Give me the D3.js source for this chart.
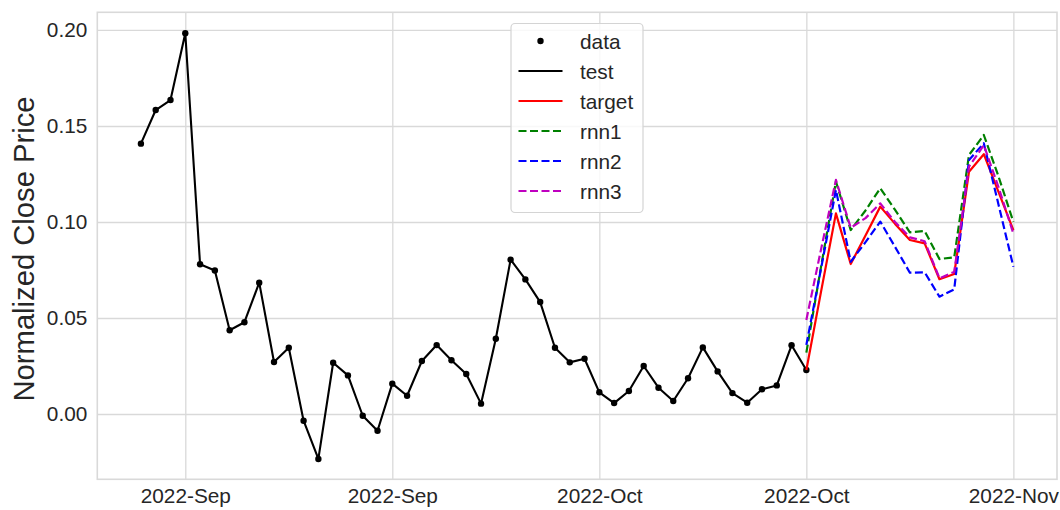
<!DOCTYPE html>
<html>
<head>
<meta charset="utf-8">
<script src="https://cdn.jsdelivr.net/npm/d3@7"></script>
<style>
  html, body { margin: 0; padding: 0; background: #fff; }
  svg { display: block; font-family: "Liberation Sans", Arial, sans-serif; }
</style>
</head>
<body>
<svg id="chart" width="1060" height="510"></svg>
<script>
// ---- data ----
const testValues = [
  0.1408, 0.1583, 0.1635, 0.1983, 0.0780, 0.0747, 0.0436, 0.0478, 0.0684, 0.0271,
  0.0345, -0.0035, -0.0234, 0.0267, 0.0201, -0.0009, -0.0087, 0.0158, 0.0095, 0.0276,
  0.0359, 0.0280, 0.0208, 0.0054, 0.0392, 0.0804, 0.0701, 0.0583, 0.0345, 0.0269,
  0.0288, 0.0113, 0.0057, 0.0120, 0.0250, 0.0137, 0.0068, 0.0186, 0.0347, 0.0222,
  0.0109, 0.0059, 0.0129, 0.0149, 0.0358, 0.0229
];
const predStart = 45;
const targetValues = [0.0229, 0.0640, 0.1045, 0.0781, 0.0930, 0.1080, 0.0990, 0.0906, 0.0889, 0.0702, 0.0729, 0.1262, 0.1353, 0.1155, 0.0958];
const rnn1Values   = [0.0320, 0.0770, 0.1210, 0.0958, 0.1060, 0.1176, 0.1063, 0.0946, 0.0953, 0.0807, 0.0816, 0.1349, 0.1453, 0.1236, 0.1000];
const rnn2Values   = [0.0360, 0.0760, 0.1167, 0.0793, 0.0895, 0.1002, 0.0870, 0.0736, 0.0738, 0.0611, 0.0649, 0.1323, 0.1410, 0.1089, 0.0767];
const rnn3Values   = [0.0490, 0.0860, 0.1219, 0.0970, 0.1020, 0.1097, 0.1000, 0.0920, 0.0900, 0.0707, 0.0740, 0.1288, 0.1400, 0.1180, 0.0940];
const xTickIndex  = [3, 17, 31, 45, 59];
const xTickLabels = ["2022-Sep", "2022-Sep", "2022-Oct", "2022-Oct", "2022-Nov"];
const yTicks = [0.00, 0.05, 0.10, 0.15, 0.20];
const yLabel = "Normalized Close Price";
const legendLabels = ["data", "test", "target", "rnn1", "rnn2", "rnn3"];

// ---- layout ----
const L = 97.3, R = 1057, T = 12.3, B = 479.3;
const svg = d3.select("#chart");
const x = d3.scaleLinear().domain([-2.95, 61.95]).range([L, R]);
const y = d3.scaleLinear().domain([-0.034, 0.2092]).range([B, T]);
const gridColor = "#d9d9d9";
const textColor = "#262626";

// grid
const xAxis = d3.axisBottom(x).tickValues(xTickIndex).tickFormat((d, i) => xTickLabels[i]).tickSize(-(B - T)).tickPadding(8);
const gx = svg.append("g").attr("transform", `translate(0,${B})`).call(xAxis);
gx.select(".domain").remove();
gx.selectAll(".tick line").attr("stroke", gridColor).attr("stroke-width", 1.3);
gx.selectAll(".tick text").attr("fill", textColor).attr("font-size", 20.8)
  .attr("font-family", "Liberation Sans, Arial, sans-serif").attr("dy", "0.71em").attr("y", 9);

const yAxis = d3.axisLeft(y).tickValues(yTicks).tickFormat(d3.format(".2f")).tickSize(-(R - L)).tickPadding(10);
const gy = svg.append("g").attr("transform", `translate(${L},0)`).call(yAxis);
gy.select(".domain").remove();
gy.selectAll(".tick line").attr("stroke", gridColor).attr("stroke-width", 1.3);
gy.selectAll(".tick text").attr("fill", textColor).attr("font-size", 20.8)
  .attr("font-family", "Liberation Sans, Arial, sans-serif");

// frame
svg.append("rect").attr("x", L).attr("y", T).attr("width", R - L).attr("height", B - T)
  .attr("fill", "none").attr("stroke", gridColor).attr("stroke-width", 1.6);

// y label
svg.append("text").attr("transform", `translate(24,249) rotate(-90)`)
  .attr("text-anchor", "middle").attr("dominant-baseline", "central")
  .attr("font-size", 29.2).attr("fill", textColor).text(yLabel);

// lines
const line = d3.line().x(d => x(d.i)).y(d => y(d.v));
const testData = testValues.map((v, i) => ({ i, v }));
const pred = arr => arr.map((v, k) => ({ i: predStart + k, v }));

svg.append("path").datum(testData).attr("d", line).attr("fill", "none")
  .attr("stroke", "#000").attr("stroke-width", 2.1).attr("stroke-linejoin", "round");
svg.append("g").selectAll("circle").data(testData).join("circle")
  .attr("cx", d => x(d.i)).attr("cy", d => y(d.v)).attr("r", 3.2).attr("fill", "#000");

const series = [
  { vals: targetValues, color: "#ff0000", dash: null },
  { vals: rnn1Values, color: "#008000", dash: "8,3.5" },
  { vals: rnn2Values, color: "#0000ff", dash: "8,3.5" },
  { vals: rnn3Values, color: "#bf00bf", dash: "8,3.5" }
];
series.forEach(s => {
  svg.append("path").datum(pred(s.vals)).attr("d", line).attr("fill", "none")
    .attr("stroke", s.color).attr("stroke-width", 2.2).attr("stroke-linejoin", "round")
    .attr("stroke-dasharray", s.dash);
});

// legend
const lg = svg.append("g");
lg.append("rect").attr("x", 511).attr("y", 23.5).attr("width", 132).attr("height", 189).attr("rx", 4)
  .attr("fill", "#fff").attr("fill-opacity", 0.8).attr("stroke", "#d4d4d4").attr("stroke-width", 1.2);
const legendStyles = [
  { type: "dot", color: "#000" },
  { type: "line", color: "#000", dash: null },
  { type: "line", color: "#ff0000", dash: null },
  { type: "line", color: "#008000", dash: "8,3.5" },
  { type: "line", color: "#0000ff", dash: "8,3.5" },
  { type: "line", color: "#bf00bf", dash: "8,3.5" }
];
legendLabels.forEach((lab, i) => {
  const cy = 41 + i * 30;
  const st = legendStyles[i];
  if (st.type === "dot") {
    lg.append("circle").attr("cx", 540.5).attr("cy", cy).attr("r", 3.2).attr("fill", st.color);
  } else {
    lg.append("line").attr("x1", 518.5).attr("x2", 562.5).attr("y1", cy).attr("y2", cy)
      .attr("stroke", st.color).attr("stroke-width", 2.2).attr("stroke-dasharray", st.dash);
  }
  lg.append("text").attr("x", 580).attr("y", cy).attr("dominant-baseline", "central")
    .attr("font-size", 20.8).attr("fill", textColor).text(lab);
});
</script>
</body>
</html>
